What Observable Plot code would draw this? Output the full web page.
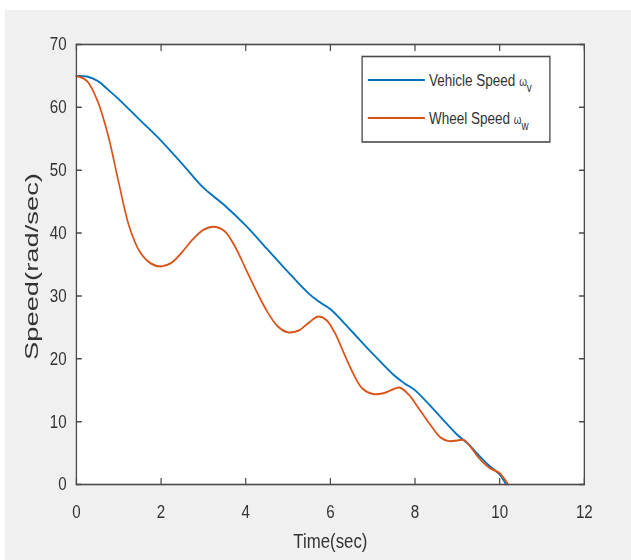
<!DOCTYPE html>
<html>
<head>
<meta charset="utf-8">
<script src="https://cdn.jsdelivr.net/npm/d3@7"></script>
<script src="https://cdn.jsdelivr.net/npm/@observablehq/plot@0.6"></script>
<style>
  html, body { margin: 0; padding: 0; background: #fff; }
  #page { position: relative; width: 631px; height: 560px; background: #fff; overflow: hidden; }
  #gray { position: absolute; left: 5px; top: 10px; width: 626px; height: 550px; background: #f0f0f0; overflow: hidden; }
  #scaled { position: absolute; left: 0; top: 0; width: 763px; height: 550px; transform: scaleX(0.82); transform-origin: 0 0; }
  #scaled svg { max-width: none !important; display: block; }
</style>
</head>
<body>
<div id="page"><div id="gray"><div id="scaled"></div></div></div>
<script>
// ---- data ----
const vehicleT = [0,0.25,0.5,0.75,1,1.5,2,2.5,3,3.25,3.5,4,4.5,5,5.5,5.75,6,6.5,7,7.5,7.75,8,8.5,9,9.25,9.5,9.75,10,10.15];
const vehicleV = [65,64.9,64.2,62.8,61.3,58,54.7,51,47.2,45.8,44.4,41.2,37.5,33.8,30.3,29,27.9,24.4,20.8,17.4,16.1,15,11.5,7.9,6.5,4.7,3,1.6,0];
const wheelT = [0,0.25,0.5,0.75,1,1.25,1.5,1.75,2,2.25,2.5,2.75,3,3.25,3.5,3.75,4,4.25,4.5,4.75,5,5.25,5.5,5.7,5.9,6.1,6.3,6.5,6.75,7,7.25,7.5,7.65,7.85,8.1,8.35,8.6,8.8,9,9.15,9.3,9.5,9.75,10,10.1,10.2];
const wheelV = [65,64.2,61,55.5,48,41,37,35.2,34.7,35.3,37,39,40.5,41,40.3,37.8,34.3,30.8,27.6,25.2,24.2,24.5,25.8,26.7,26.2,24.2,21.2,18.2,15.3,14.4,14.5,15.2,15.4,14.3,12,9.6,7.5,6.9,7,7.1,6.1,4.3,2.7,1.8,1.0,0];
const xTicks = [0,2,4,6,8,10,12];
const yTicks = [0,10,20,30,40,50,60,70];
const seriesNames = ["Vehicle Speed", "Wheel Speed"];
const seriesSubs = ["v", "w"];
const colors = ["#0072BD", "#D95319"];
const xLabel = "Time(sec)";
const yLabel = "Speed(rad/sec)";

const vehicle = vehicleT.map((t, i) => ({t, v: vehicleV[i]}));
const wheel = wheelT.map((t, i) => ({t, v: wheelV[i]}));

const axisColor = "#4a4a4a";
const textColor = "#333";
const font = "'Liberation Sans', Arial, sans-serif";
const tickShape = { draw(context, l) { context.moveTo(0, 0); context.lineTo(0, -l); } };

const W = 763, H = 550;
const plot = Plot.plot({
  width: W,
  height: H,
  marginLeft: 86.6,
  marginRight: 57,
  marginTop: 34,
  marginBottom: 76,
  style: { background: "transparent", fontFamily: font, color: textColor, maxWidth: "none" },
  x: { domain: [0, 12], ticks: xTicks },
  y: { domain: [0, 70], ticks: yTicks },
  marks: [
    Plot.frame({ fill: "white" }),
    Plot.line(vehicle, { x: "t", y: "v", stroke: colors[0], strokeWidth: 2, curve: "catmull-rom" }),
    Plot.line(wheel, { x: "t", y: "v", stroke: colors[1], strokeWidth: 2, curve: "catmull-rom" }),
    // inward ticks on all four sides
    Plot.vector(xTicks, { x: d => d, y: 0, length: 6, rotate: 0, anchor: "start", shape: tickShape, stroke: axisColor, strokeWidth: 1.5 }),
    Plot.vector(xTicks, { x: d => d, y: 70, length: 6, rotate: 180, anchor: "start", shape: tickShape, stroke: axisColor, strokeWidth: 1.5 }),
    Plot.vector(yTicks, { x: 0, y: d => d, length: 6, rotate: 90, anchor: "start", shape: tickShape, stroke: axisColor, strokeWidth: 1.5 }),
    Plot.vector(yTicks, { x: 12, y: d => d, length: 6, rotate: -90, anchor: "start", shape: tickShape, stroke: axisColor, strokeWidth: 1.5 }),
    Plot.frame({ stroke: axisColor, strokeWidth: 1.6 }),
    Plot.axisX({ ticks: xTicks, tickSize: 0, tickPadding: 20, fontSize: 18.5, label: null, fill: textColor }),
    Plot.axisY({ ticks: yTicks, tickSize: 0, tickPadding: 12, fontSize: 18.5, label: null, fill: textColor }),
    Plot.text([xLabel], { text: d => d, frameAnchor: "bottom", dy: 63, fontSize: 20.5, fill: textColor })
  ]
});

document.getElementById("scaled").appendChild(plot);
const svg = d3.select(plot);

// y-axis label: rotated, stretched along its length like the reference
svg.append("text")
  .attr("transform", "translate(40.8,350) rotate(-90)")
  .attr("text-anchor", "start")
  .attr("font-family", font)
  .attr("font-size", 22)
  .attr("fill", textColor)
  .attr("textLength", 187)
  .attr("lengthAdjust", "spacingAndGlyphs")
  .text(yLabel);

// legend box (inside the axes, upper right)
const lg = svg.append("g").attr("class", "legend");
lg.append("rect").attr("x", 435.5).attr("y", 46.5).attr("width", 229).attr("height", 85.5)
  .attr("fill", "white").attr("stroke", axisColor).attr("stroke-width", 1.6);
seriesNames.forEach((name, i) => {
  const cy = 70 + i * 38;
  lg.append("line").attr("x1", 442.5).attr("x2", 512).attr("y1", cy).attr("y2", cy)
    .attr("stroke", colors[i]).attr("stroke-width", 2);
  const t = lg.append("text").attr("x", 517).attr("y", cy + 6)
    .attr("text-anchor", "start")
    .attr("font-size", 16.5).attr("fill", textColor).attr("font-family", font);
  t.append("tspan").text(name + " ");
  t.append("tspan").attr("font-size", 12).text("ω");
  t.append("tspan").attr("font-size", 12).attr("dy", 6).text(seriesSubs[i]);
});
</script>
</body>
</html>
